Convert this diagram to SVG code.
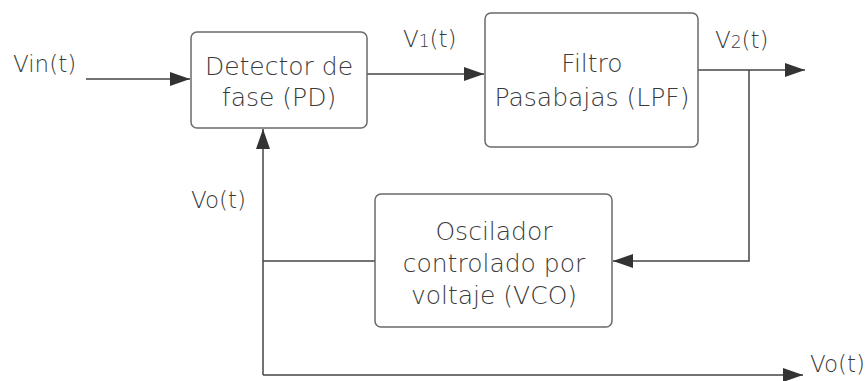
<svg xmlns="http://www.w3.org/2000/svg" width="866" height="381" viewBox="0 0 866 381">
<style>
.box{fill:#fff;stroke:#6a6a6a;stroke-width:1.5}
.t{font-family:"DejaVu Sans",sans-serif;font-size:25px;font-weight:200;fill:#3a3a3a;text-anchor:middle}
.l{font-family:"DejaVu Sans",sans-serif;font-size:23px;font-weight:200;fill:#3a3a3a}
.c{fill:none;stroke:#444;stroke-width:1.5}
</style>
<defs>
<marker id="ah" markerUnits="userSpaceOnUse" markerWidth="21" markerHeight="15" refX="20" refY="7" orient="auto">
<path d="M0,0 L20,7 L0,14 z" fill="#333"/>
</marker>
</defs>
<rect width="866" height="381" fill="#fff"/>
<g id="connectors">
<path class="c" d="M86,79 H190" marker-end="url(#ah)"/>
<path class="c" d="M367,74 H484" marker-end="url(#ah)"/>
<path class="c" d="M698,70 H805" marker-end="url(#ah)"/>
<path class="c" d="M749,70 V261 H613" marker-end="url(#ah)"/>
<path class="c" d="M375,261 H263"/>
<path class="c" d="M263,375 V129" marker-end="url(#ah)"/>
<path class="c" d="M263,375 H803" marker-end="url(#ah)"/>
</g>
<g id="pd">
<rect class="box" x="191" y="32" width="176" height="96" rx="6"/>
<text class="t" x="279" y="75">Detector de</text>
<text class="t" x="279" y="106">fase (PD)</text>
</g>
<g id="lpf">
<rect class="box" x="485" y="13" width="213" height="134" rx="6"/>
<text class="t" x="592" y="72">Filtro</text>
<text class="t" x="592" y="106">Pasabajas (LPF)</text>
</g>
<g id="vco">
<rect class="box" x="375" y="194" width="237" height="133" rx="6"/>
<text class="t" x="494" y="240">Oscilador</text>
<text class="t" x="494" y="272">controlado por</text>
<text class="t" x="494" y="304">voltaje (VCO)</text>
</g>
<g id="labels">
<text class="l" x="13" y="72">Vin(t)</text>
<text class="l" x="403" y="47">V<tspan font-size="17">1</tspan>(t)</text>
<text class="l" x="715" y="48">V<tspan font-size="17">2</tspan>(t)</text>
<text class="l" x="191" y="208">Vo(t)</text>
<text class="l" x="810" y="372">Vo(t)</text>
</g>
</svg>
